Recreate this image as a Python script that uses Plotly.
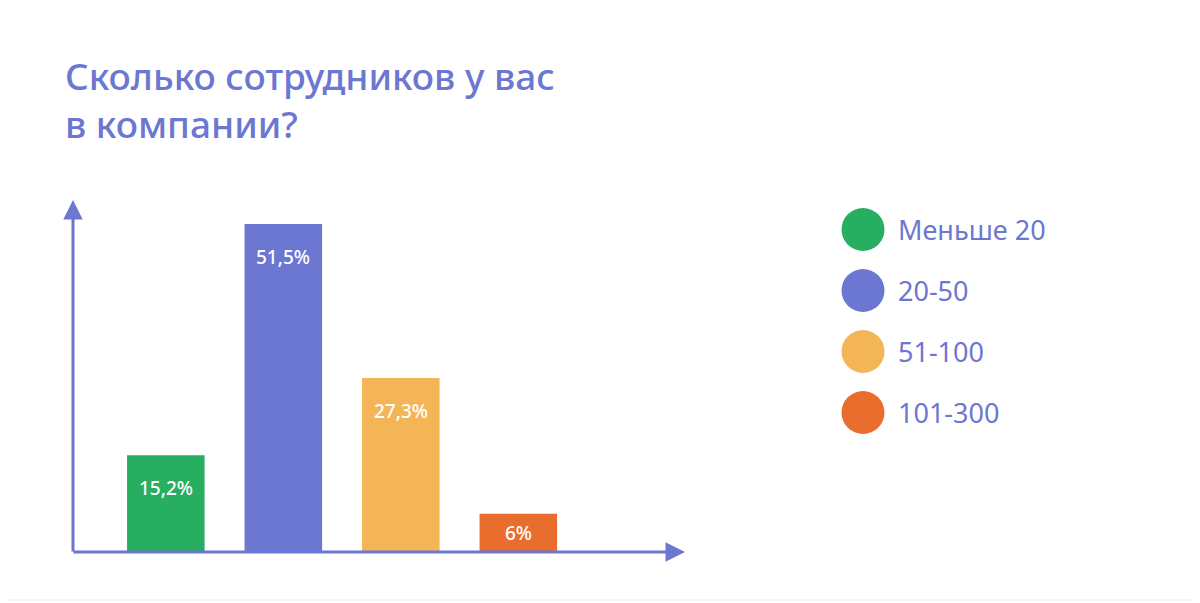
import plotly.graph_objects as go

categories = ["Меньше 20", "20-50", "51-100", "101-300"]
shares = [15.2, 51.5, 27.3, 6]
colors = ["#27ae60", "#6b77d1", "#f4b557", "#e96d2d"]

title = "Сколько сотрудников у вас<br>в компании?"
accent = "#6b77d1"
font_name = "Noto Sans"

W, H = 1200, 603
OFF = 8  # page body margin

def px(x):
    return (x - OFF) / W

def py(y):
    return (H - (y - OFF)) / H

labels = [f"{v:g}".replace(".", ",") + "%" for v in shares]

y_top = 55.1
unit_px = (552 - 201) / y_top

fig = go.Figure()

# bars
fig.add_trace(go.Bar(
    x=list(range(len(categories))), y=shares,
    marker=dict(color=colors, line_width=0),
    width=0.66, showlegend=False, hoverinfo="skip",
    xaxis="x", yaxis="y",
))

# legend drawn as big dots
fig.add_trace(go.Scatter(
    x=[0] * len(categories), y=categories, mode="markers",
    marker=dict(color=colors, size=43),
    showlegend=False, hoverinfo="skip", cliponaxis=False,
    xaxis="x2", yaxis="y2",
))

annotations = []
for i, (v, lab) in enumerate(zip(shares, labels)):
    annotations.append(dict(
        x=i, y=v, xref="x", yref="y", text=lab, showarrow=False,
        yshift=-min(33, v * unit_px / 2),
        font=dict(family=font_name, size=19, color="white", weight=500),
    ))
for cat in categories:
    annotations.append(dict(
        x=0, y=cat, xref="x2", yref="y2", text=cat, showarrow=False,
        xanchor="left", xshift=33,
        font=dict(family=font_name, size=27, color=accent),
    ))

# title
annotations.append(dict(
    x=px(63), y=py(48), xref="paper", yref="paper", text=title,
    showarrow=False, xanchor="left", yanchor="top", align="left",
    font=dict(family=font_name, size=37, color=accent, weight=500),
))

# axis arrows
annotations.append(dict(
    x=px(73), y=py(200), xref="paper", yref="paper",
    ax=0, ay=353, showarrow=True, arrowhead=2, arrowsize=1.3,
    arrowwidth=3, arrowcolor=accent, text="",
))
annotations.append(dict(
    x=px(685), y=py(552), xref="paper", yref="paper",
    ax=-613, ay=0, showarrow=True, arrowhead=2, arrowsize=1.3,
    arrowwidth=3, arrowcolor=accent, text="",
))

fig.update_layout(
    width=W, height=H,
    margin=dict(l=0, r=0, t=0, b=0),
    paper_bgcolor="white", plot_bgcolor="rgba(0,0,0,0)",
    xaxis=dict(domain=[px(73), px(684)], range=[-0.79, 4.41], visible=False, fixedrange=True),
    yaxis=dict(domain=[py(552), py(201)], range=[0, y_top], visible=False, fixedrange=True),
    xaxis2=dict(domain=[px(863), px(1190)], range=[0, 1], visible=False, anchor="y2"),
    yaxis2=dict(domain=[py(443), py(199)], range=[3.5, -0.5], visible=False, anchor="x2",
                type="category"),
    annotations=annotations,
    shapes=[dict(type="rect", xref="paper", yref="paper",
                 x0=px(2), x1=px(1197), y0=py(600), y1=py(2),
                 line=dict(color="#ececec", width=1))],
)

fig.write_html("out.html")
